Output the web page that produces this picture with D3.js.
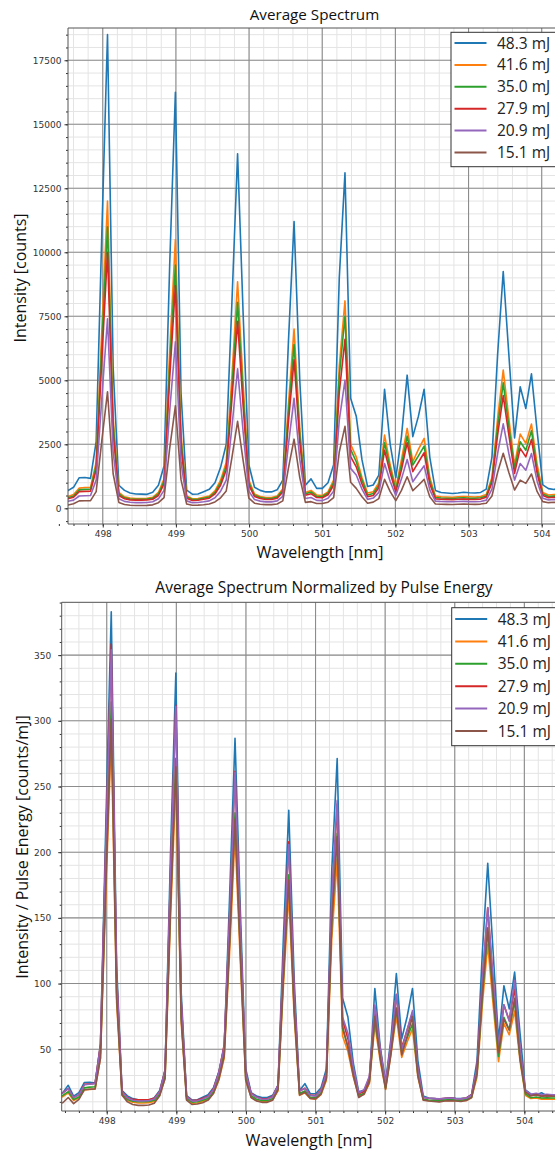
<!DOCTYPE html>
<html>
<head>
<meta charset="utf-8">
<script src="https://cdnjs.cloudflare.com/ajax/libs/d3/7.8.5/d3.min.js"></script>
<style>
  body { margin: 0; background: #fff; }
  .tick text { font-family: "DejaVu Sans", sans-serif; font-size: 9px; fill: #333; }
  .tick line { stroke: #333; }
  .domain { stroke: none; }
</style>
</head>
<body>
<div id="chart"></div>
<script>
// DATA
////////////////////////////
// pulse energies (legend) + matplotlib tab10 colours
var energies = [48.3, 41.6, 35.0, 27.9, 20.9, 15.1];
var seriesLabels = ["48.3 mJ", "41.6 mJ", "35.0 mJ", "27.9 mJ", "20.9 mJ", "15.1 mJ"];
var colors = ["#1f77b4", "#ff7f0e", "#2ca02c", "#d62728", "#9467bd", "#8c564b"];

// spectrometer pixels [nm]
var wavelengths = [
  497.292, 497.369, 497.447, 497.524, 497.601, 497.679, 497.756, 497.833, 497.910, 497.988,
  498.065, 498.142, 498.220, 498.297, 498.374, 498.452, 498.529, 498.606, 498.683, 498.761,
  498.838, 498.915, 498.993, 499.070, 499.147, 499.224, 499.302, 499.379, 499.456, 499.534,
  499.611, 499.688, 499.765, 499.843, 499.920, 499.997, 500.074, 500.152, 500.229, 500.306,
  500.384, 500.461, 500.538, 500.615, 500.693, 500.770, 500.847, 500.924, 501.002, 501.079,
  501.156, 501.233, 501.311, 501.388, 501.465, 501.543, 501.620, 501.697, 501.774, 501.852,
  501.929, 502.006, 502.083, 502.161, 502.238, 502.315, 502.393, 502.470, 502.547, 502.624,
  502.702, 502.779, 502.856, 502.933, 503.011, 503.088, 503.165, 503.242, 503.320, 503.397,
  503.474, 503.551, 503.629, 503.706, 503.783, 503.860, 503.938, 504.015, 504.092, 504.170,
  504.247, 504.324, 504.401, 504.479, 504.556, 504.633
];

// average counts per pulse energy
var counts483 = [
  700, 820, 1090, 690, 820, 1195, 1200, 1170, 2600, 10800,
  18500, 5500, 900, 700, 600, 560, 555, 545, 630, 900,
  1650, 9500, 16250, 4500, 710, 550, 560, 650, 740, 1000,
  1600, 2500, 8000, 13850, 7500, 1700, 820, 700, 640, 640,
  720, 1100, 6500, 11200, 5000, 900, 1150, 780, 780, 1000,
  1700, 9000, 13100, 4300, 3600, 1900, 850, 910, 1300, 4650,
  2500, 1200, 2800, 5200, 2800, 3600, 4650, 2000, 700, 620,
  600, 580, 600, 630, 610, 600, 620, 750, 2000, 6000,
  9250, 6000, 2750, 4750, 3900, 5250, 3000, 918, 770, 735,
  816, 695, 725, 700, 700, 700
];
var counts416 = [
  560, 580, 700, 460, 540, 790, 810, 820, 1800, 7000,
  12000, 3560, 620, 450, 400, 380, 380, 390, 430, 620,
  1150, 6140, 10500, 2910, 480, 370, 380, 430, 480, 680,
  1100, 1800, 5120, 8850, 4800, 1100, 560, 460, 420, 420,
  480, 760, 4060, 7000, 3120, 620, 700, 520, 500, 640,
  1100, 5560, 8100, 2500, 2010, 1200, 600, 650, 1000, 2860,
  1700, 800, 1900, 3120, 1820, 2300, 2730, 1200, 480, 450,
  440, 430, 450, 460, 450, 440, 460, 540, 1200, 3500,
  5400, 3500, 1690, 2900, 2535, 3290, 1700, 620, 520, 540,
  500, 510, 500, 500, 500, 500
];
var counts350 = [
  500, 520, 620, 410, 480, 720, 740, 750, 1650, 6420,
  11000, 3270, 560, 410, 365, 350, 350, 360, 395, 560,
  1050, 5560, 9500, 2630, 440, 340, 350, 395, 440, 620,
  1000, 1650, 4650, 8050, 4360, 1000, 510, 420, 385, 385,
  440, 700, 3710, 6400, 2850, 570, 640, 470, 460, 590,
  1000, 5150, 7500, 2300, 1820, 1100, 520, 580, 900, 2560,
  1550, 720, 1700, 2820, 1690, 2050, 2430, 1080, 420, 400,
  390, 380, 400, 410, 395, 390, 410, 480, 1100, 3180,
  4900, 3180, 1560, 2600, 2270, 3030, 1500, 560, 460, 480,
  450, 460, 450, 450, 450, 450
];
var counts279 = [
  450, 470, 560, 370, 430, 650, 660, 670, 1500, 5840,
  10000, 2970, 500, 370, 330, 320, 320, 325, 355, 500,
  950, 5090, 8700, 2410, 395, 305, 315, 355, 395, 560,
  900, 1500, 4220, 7300, 3960, 900, 460, 380, 345, 345,
  395, 630, 3360, 5800, 2590, 510, 570, 420, 410, 530,
  900, 4530, 6600, 2020, 1620, 950, 450, 500, 800, 2270,
  1380, 640, 1500, 2560, 1430, 1800, 2170, 950, 370, 355,
  350, 340, 355, 360, 350, 345, 360, 430, 1000, 2860,
  4400, 2860, 1365, 2340, 2010, 2690, 1350, 500, 410, 430,
  400, 410, 400, 400, 400, 400
];
var counts209 = [
  330, 350, 420, 275, 320, 480, 490, 500, 1100, 4320,
  7400, 2200, 370, 270, 235, 222, 222, 228, 255, 370,
  700, 3800, 6500, 1800, 290, 220, 225, 255, 290, 410,
  670, 1100, 3150, 5450, 2950, 670, 340, 280, 250, 250,
  290, 470, 2490, 4300, 1920, 380, 420, 310, 300, 390,
  670, 3440, 5000, 1560, 1300, 750, 350, 400, 620, 1750,
  1050, 500, 1150, 1910, 1040, 1350, 1660, 720, 280, 265,
  260, 255, 265, 270, 260, 255, 265, 320, 750, 2140,
  3300, 2140, 1100, 1750, 1490, 2140, 1050, 390, 330, 345,
  320, 330, 320, 320, 320, 320
];
var counts151 = [
  130, 140, 200, 130, 180, 290, 296, 300, 650, 2660,
  4550, 1350, 230, 150, 120, 110, 110, 115, 135, 220,
  420, 2340, 4000, 1110, 170, 120, 125, 140, 170, 250,
  410, 680, 1970, 3400, 1840, 400, 200, 160, 145, 145,
  170, 290, 1570, 2700, 1200, 230, 260, 190, 185, 240,
  420, 2200, 3200, 1020, 780, 450, 200, 240, 380, 1130,
  650, 300, 700, 1230, 690, 900, 1130, 450, 170, 160,
  155, 150, 160, 165, 160, 155, 165, 200, 480, 1400,
  2150, 1400, 715, 1100, 975, 1340, 650, 260, 220, 235,
  215, 225, 215, 215, 215, 215
];

var allCounts = [counts483, counts416, counts350, counts279, counts209, counts151];
// second panel = same spectra divided by pulse energy
var allNormalized = allCounts.map(function(s, k) {
  return s.map(function(v) { return v / energies[k]; });
});

// tick values
var xMajor = [498, 499, 500, 501, 502, 503, 504];
var xMinor = d3.range(497.4, 505.01, 0.2);
var yMajorTop = [0, 2500, 5000, 7500, 10000, 12500, 15000, 17500];
var yMinorTop = d3.range(-500, 18751, 500);
var yMajorBot = [50, 100, 150, 200, 250, 300, 350];
var yMinorBot = d3.range(10, 391, 10);


// SETUP
////////////////////////////
var width = 555,
    height = 1151;

var svg = d3.select("#chart").append("svg")
    .attr("width", width)
    .attr("height", height)
    .style("font-family", "'Open Sans', 'Noto Sans', sans-serif");

function drawPanel(cfg) {
  var g = svg.append("g");
  var x = d3.scaleLinear().domain(cfg.xDomain).range([cfg.left, cfg.right]);
  var y = d3.scaleLinear().domain(cfg.yDomain).range([cfg.bottom, cfg.top]);

  var clipId = "clip" + cfg.id;
  g.append("clipPath").attr("id", clipId)
    .append("rect")
      .attr("x", cfg.left).attr("y", cfg.top)
      .attr("width", cfg.right - cfg.left).attr("height", cfg.bottom - cfg.top);

  var grid = g.append("g").attr("clip-path", "url(#" + clipId + ")");

  // minor grid first, major on top
  grid.selectAll(".vmin").data(cfg.xMinor).enter().append("line")
    .attr("x1", function(d) { return x(d); }).attr("x2", function(d) { return x(d); })
    .attr("y1", cfg.top).attr("y2", cfg.bottom)
    .attr("stroke", "#e4e4e4").attr("stroke-width", 1);
  grid.selectAll(".hmin").data(cfg.yMinor).enter().append("line")
    .attr("y1", function(d) { return y(d); }).attr("y2", function(d) { return y(d); })
    .attr("x1", cfg.left).attr("x2", cfg.right)
    .attr("stroke", "#e4e4e4").attr("stroke-width", 1);
  grid.selectAll(".vmaj").data(cfg.xMajor).enter().append("line")
    .attr("x1", function(d) { return x(d); }).attr("x2", function(d) { return x(d); })
    .attr("y1", cfg.top).attr("y2", cfg.bottom)
    .attr("stroke", "#8c8c8c").attr("stroke-width", 1.1);
  grid.selectAll(".hmaj").data(cfg.yMajor).enter().append("line")
    .attr("y1", function(d) { return y(d); }).attr("y2", function(d) { return y(d); })
    .attr("x1", cfg.left).attr("x2", cfg.right)
    .attr("stroke", "#8c8c8c").attr("stroke-width", 1.1);

  // spectra
  var line = d3.line()
    .x(function(d, i) { return x(wavelengths[i]); })
    .y(function(d) { return y(d); });

  g.append("g").attr("clip-path", "url(#" + clipId + ")")
    .selectAll("path").data(cfg.series).enter().append("path")
      .attr("d", line)
      .attr("fill", "none")
      .attr("stroke", function(d, k) { return colors[k]; })
      .attr("stroke-width", 1.6)
      .attr("stroke-linejoin", "round");

  // axes (major with labels, minor without)
  g.append("g").attr("transform", "translate(0," + cfg.bottom + ")")
    .call(d3.axisBottom(x).tickValues(cfg.xMajor).tickFormat(d3.format("d"))
      .tickSize(3.5).tickPadding(3));
  g.append("g").attr("transform", "translate(0," + cfg.bottom + ")")
    .call(d3.axisBottom(x).tickValues(cfg.xMinor).tickFormat("").tickSize(2));
  g.append("g").attr("transform", "translate(" + cfg.left + ",0)")
    .call(d3.axisLeft(y).tickValues(cfg.yMajor).tickFormat(d3.format("d"))
      .tickSize(3.5).tickPadding(cfg.yPad));
  g.append("g").attr("transform", "translate(" + cfg.left + ",0)")
    .call(d3.axisLeft(y).tickValues(cfg.yMinor.filter(function(v) {
        return v >= cfg.yDomain[0] && v <= cfg.yDomain[1]; }))
      .tickFormat("").tickSize(2));

  // spines (left, bottom, top; right is off-page)
  g.append("path")
    .attr("d", "M" + cfg.right + "," + cfg.top + "H" + cfg.left + "V" + cfg.bottom + "H" + cfg.right)
    .attr("fill", "none").attr("stroke", "#555").attr("stroke-width", 1);

  // titles
  g.append("text").attr("x", cfg.titleX).attr("y", cfg.titleY)
    .attr("text-anchor", "middle").attr("font-size", cfg.titleSize).attr("fill", "#111")
    .text(cfg.title);
  g.append("text").attr("x", cfg.xLabelX).attr("y", cfg.xLabelY)
    .attr("text-anchor", "middle").attr("font-size", 16).attr("fill", "#111")
    .text("Wavelength [nm]");
  g.append("text")
    .attr("transform", "translate(" + cfg.yLabelX + "," + cfg.yLabelY + ") rotate(-90)")
    .attr("text-anchor", "middle").attr("font-size", 16).attr("fill", "#111")
    .text(cfg.yLabel);

  // legend
  var leg = g.append("g").attr("transform", "translate(" + cfg.legX + "," + cfg.legY + ")");
  leg.append("rect")
    .attr("x", 0).attr("y", 0).attr("width", 130).attr("height", cfg.legH)
    .attr("fill", "#fff").attr("stroke", "#333").attr("stroke-width", 1);
  var rows = leg.selectAll(".row").data(seriesLabels).enter().append("g")
    .attr("transform", function(d, k) { return "translate(0," + (cfg.legRow0 + k * cfg.legStep) + ")"; });
  rows.append("line")
    .attr("x1", 3.5).attr("x2", 35.5).attr("y1", 0).attr("y2", 0)
    .attr("stroke", function(d, k) { return colors[k]; }).attr("stroke-width", 2);
  rows.append("text")
    .attr("x", 46).attr("y", 5.5)
    .attr("font-size", 15.5).attr("fill", "#222")
    .text(function(d) { return d; });
}

drawPanel({
  id: "top", series: allCounts,
  left: 68, right: 560, top: 28, bottom: 524,
  xDomain: [497.525, 504.25], yDomain: [-613, 18760],
  xMajor: xMajor, xMinor: xMinor, yMajor: yMajorTop, yMinor: yMinorTop, yPad: 3,
  title: "Average Spectrum", titleX: 314.5, titleY: 20, titleSize: 15.2,
  xLabelX: 320, xLabelY: 558,
  yLabel: "Intensity [counts]", yLabelX: 26, yLabelY: 278,
  legX: 451, legY: 32.3, legH: 134.4, legRow0: 10.7, legStep: 21.9
});

drawPanel({
  id: "bot", series: allNormalized,
  left: 61.7, right: 587, top: 602.3, bottom: 1111,
  xDomain: [497.353, 504.9], yDomain: [3, 390.2],
  xMajor: xMajor, xMinor: xMinor, yMajor: yMajorBot, yMinor: yMinorBot, yPad: 7,
  title: "Average Spectrum Normalized by Pulse Energy", titleX: 324, titleY: 592.5, titleSize: 15.5,
  xLabelX: 309, xLabelY: 1146,
  yLabel: "Intensity / Pulse Energy [counts/mJ]", yLabelX: 28, yLabelY: 847,
  legX: 451.7, legY: 607.7, legH: 138, legRow0: 11.3, legStep: 22.4
});
</script>
</body>
</html>
